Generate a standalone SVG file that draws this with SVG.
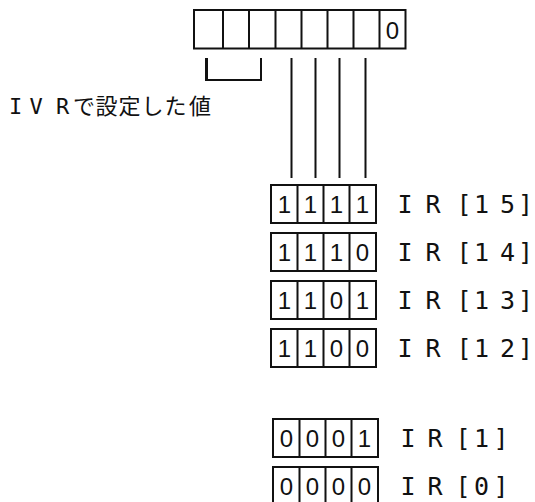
<svg xmlns="http://www.w3.org/2000/svg" width="535" height="502" viewBox="0 0 535 502">
<style>
.box{fill:#fff;stroke:#111;stroke-width:2}
.ln{stroke:#111;stroke-width:2;fill:none}
.dg{font-family:"Liberation Sans",Arial,sans-serif;font-size:24px;fill:#111;text-anchor:middle}
.lb{font-family:"DejaVu Sans Mono","Liberation Mono",monospace;font-size:25px;fill:#111;text-anchor:middle}
.jp{font-family:"DejaVu Sans Mono","Noto Sans CJK JP",sans-serif;font-size:22px;fill:#111;text-anchor:middle}
</style>
<rect width="535" height="502" fill="#fff"/>
<g id="register">
<rect class="box" x="194" y="10" width="211.5" height="38.5"/>
<path class="ln" d="M223,10V48.5M249,10V48.5M275.5,10V48.5M301.5,10V48.5M327.5,10V48.5M353.5,10V48.5M379.5,10V48.5"/>
<text class="dg" x="392.5" y="39">0</text>
</g>
<g id="connectors">
<path class="ln" d="M206,58V80H261V58"/>
<line x1="206.5" y1="58" x2="206.5" y2="81" stroke="#111" stroke-width="3"/>
<path class="ln" d="M291.5,58V178M315.5,58V178M339.5,58V178M365.5,58V178"/>
</g>
<g id="ivr-label">
<text class="jp" x="15.5 36 62.5 84 106.5 129.5 152.5 175.5 200" y="114">IVRで設定した値</text>
</g>
<g id="ir15">
<rect class="box" x="271" y="185" width="105" height="38"/>
<path class="ln" d="M297.5,185V223M323.5,185V223M349.5,185V223"/>
<text class="dg" x="284.5 310.5 336.5 362.5" y="213">1111</text>
<text class="lb" x="405 419 433 449 464 481.5 507.5 525.5" y="213">I R [15]</text>
</g>
<g id="ir14">
<rect class="box" x="271" y="233" width="105" height="38"/>
<path class="ln" d="M297.5,233V271M323.5,233V271M349.5,233V271"/>
<text class="dg" x="284.5 310.5 336.5 362.5" y="261">1110</text>
<text class="lb" x="405 419 433 449 464 481.5 507.5 525.5" y="261">I R [14]</text>
</g>
<g id="ir13">
<rect class="box" x="271" y="281" width="105" height="38"/>
<path class="ln" d="M297.5,281V319M323.5,281V319M349.5,281V319"/>
<text class="dg" x="284.5 310.5 336.5 362.5" y="309">1101</text>
<text class="lb" x="405 419 433 449 464 481.5 507.5 525.5" y="309">I R [13]</text>
</g>
<g id="ir12">
<rect class="box" x="271" y="329" width="105" height="38"/>
<path class="ln" d="M297.5,329V367M323.5,329V367M349.5,329V367"/>
<text class="dg" x="284.5 310.5 336.5 362.5" y="357">1100</text>
<text class="lb" x="405 419 433 449 464 481.5 507.5 525.5" y="357">I R [12]</text>
</g>
<g id="ir1">
<rect class="box" x="273" y="419" width="105" height="38"/>
<path class="ln" d="M299.5,419V457M325.5,419V457M351.5,419V457"/>
<text class="dg" x="286.5 312.5 338.5 364.5" y="447">0001</text>
<text class="lb" x="408 421 435 449 463 481.5 501" y="447">I R [1]</text>
</g>
<g id="ir0">
<rect class="box" x="273" y="467" width="105" height="38"/>
<path class="ln" d="M299.5,467V505M325.5,467V505M351.5,467V505"/>
<text class="dg" x="286.5 312.5 338.5 364.5" y="495">0000</text>
<text class="lb" x="408 421 435 449 463 481.5 501" y="495">I R [0]</text>
</g>
</svg>
